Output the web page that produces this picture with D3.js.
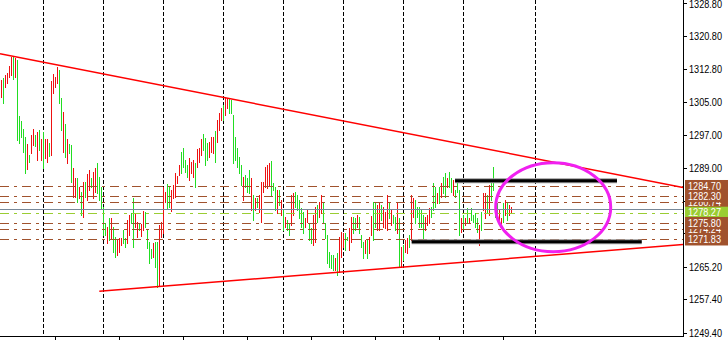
<!DOCTYPE html>
<html><head><meta charset="utf-8">
<script src="https://cdn.jsdelivr.net/npm/d3@7"></script>
<style>html,body{margin:0;padding:0;background:#fff;overflow:hidden}svg{display:block}</style>
</head><body>
<svg id="c" width="728" height="340"></svg>
<script>
// ---------------- data ----------------
const priceTicks = [1328.80,1320.80,1312.80,1305.00,1297.00,1289.00,1281.10,1273.30,1265.20,1257.40,1249.40];
const priceTickLabels = ["1328.80","1320.80","1312.80","1305.00","1297.00","1289.00","","","1265.20","1257.40","1249.40"];
const highs = [
1310.2,1310.7,1311.4,1311.9,1313.6,1315.7,1316.0,1315.5,1315.0,1301.5,
1300.3,1298.4,1296.5,1294.8,1292.2,1297.0,1298.4,1297.0,1297.7,1298.2,
1296.0,1297.7,1296.0,1296.0,1295.0,1310.0,1311.7,1310.9,1313.3,1312.6,
1305.9,1302.5,1299.6,1296.0,1294.8,1294.6,1289.0,1286.6,1286.6,1284.5,
1283.3,1285.7,1285.7,1287.6,1288.5,1286.6,1288.1,1289.0,1290.2,1286.9,
1284.5,1279.6,1275.8,1274.8,1277.0,1277.0,1274.8,1272.4,1271.7,1272.2,
1272.2,1274.1,1272.2,1276.5,1277.7,1278.2,1281.8,1278.2,1276.0,1275.8,
1275.6,1278.7,1278.4,1274.1,1271.2,1269.5,1271.0,1271.2,1271.2,1275.3,
1276.0,1284.5,1283.3,1285.2,1284.5,1283.7,1284.9,1287.8,1287.1,1289.8,
1292.9,1293.8,1291.0,1289.8,1291.4,1290.5,1291.0,1290.2,1293.6,1293.8,
1296.0,1297.2,1296.2,1295.0,1295.3,1296.5,1296.5,1297.9,1300.6,1302.3,
1303.5,1304.2,1306.1,1305.9,1305.6,1305.4,1301.8,1296.5,1293.8,1291.7,
1289.8,1286.9,1287.4,1286.6,1288.5,1286.6,1282.5,1281.8,1281.8,1282.5,
1285.7,1285.7,1289.3,1289.8,1290.2,1290.7,1285.4,1284.5,1283.7,1283.7,
1281.3,1278.9,1277.2,1276.5,1275.8,1282.5,1283.0,1283.3,1282.5,1281.3,
1279.4,1278.4,1277.0,1278.9,1275.8,1274.6,1277.7,1279.6,1280.1,1280.9,
1282.5,1280.9,1275.8,1272.9,1268.8,1268.1,1268.1,1267.4,1268.6,1272.4,
1273.6,1273.4,1273.4,1272.4,1274.6,1277.2,1277.2,1277.0,1277.7,1277.2,
1272.9,1271.2,1271.7,1271.9,1272.4,1277.5,1280.9,1280.6,1280.1,1280.9,
1280.1,1279.6,1278.4,1282.5,1280.6,1278.9,1277.7,1277.2,1280.9,1277.0,
1270.0,1270.5,1271.7,1272.2,1272.9,1282.5,1281.8,1281.3,1279.6,1279.6,
1278.9,1277.7,1277.2,1277.7,1279.4,1279.6,1285.4,1284.5,1283.0,1284.5,
1285.4,1286.9,1287.8,1286.6,1288.1,1286.6,1286.1,1283.7,1285.7,1283.7,
1277.0,1277.7,1277.0,1279.4,1277.0,1279.4,1277.7,1278.2,1277.0,1275.3,
1278.4,1283.0,1283.0,1282.5,1284.9,1285.7,1289.3,1280.1,1280.6,1278.9,
1277.0,1280.6,1281.3,1280.6,1280.1,1279.6];
const lows = [
1306.1,1304.7,1308.5,1309.5,1310.9,1311.4,1310.4,1310.9,1295.8,1295.0,
1296.5,1292.9,1287.8,1288.8,1290.5,1292.6,1294.6,1294.3,1291.0,1293.4,
1291.0,1289.0,1291.4,1290.5,1291.9,1292.2,1307.1,1308.5,1309.5,1304.7,
1298.2,1292.9,1291.7,1290.2,1292.6,1285.7,1282.1,1282.1,1280.9,1281.8,
1277.7,1277.2,1282.1,1281.3,1283.7,1284.5,1281.8,1283.3,1283.0,1281.3,
1279.2,1272.9,1272.9,1271.0,1271.7,1271.9,1268.8,1267.6,1268.1,1268.8,
1270.5,1271.0,1270.0,1271.0,1272.9,1275.8,1270.0,1274.8,1272.4,1274.1,
1272.7,1274.1,1274.8,1269.8,1266.2,1267.4,1267.6,1265.2,1260.4,1260.6,
1272.4,1273.4,1280.9,1279.4,1279.6,1278.7,1281.8,1282.1,1285.4,1287.4,
1287.8,1289.3,1288.1,1286.9,1286.1,1287.8,1286.9,1284.5,1289.3,1290.5,
1292.2,1293.4,1289.8,1291.0,1291.7,1292.9,1292.6,1290.5,1295.3,1298.2,
1300.6,1300.6,1301.8,1303.5,1302.3,1302.3,1290.2,1291.0,1289.3,1287.8,
1284.9,1281.3,1284.5,1283.3,1283.0,1278.9,1276.5,1278.9,1279.6,1278.4,
1276.0,1283.3,1284.5,1284.2,1284.9,1282.5,1283.7,1278.9,1278.2,1280.1,
1277.7,1274.1,1274.8,1274.1,1272.9,1275.3,1277.7,1279.6,1278.9,1277.0,
1274.8,1273.4,1274.8,1276.0,1271.7,1271.0,1270.5,1271.2,1276.0,1277.2,
1278.2,1276.0,1272.2,1266.2,1265.2,1265.0,1264.5,1264.5,1263.3,1264.0,
1267.6,1270.0,1269.3,1271.7,1269.3,1271.2,1273.4,1274.1,1274.8,1273.4,
1270.0,1267.4,1268.6,1267.4,1268.6,1272.9,1271.7,1274.8,1274.1,1274.1,
1276.5,1274.8,1274.6,1274.1,1277.0,1275.3,1275.8,1274.1,1273.4,1265.2,
1265.2,1266.9,1268.8,1268.6,1270.0,1271.7,1277.2,1275.8,1277.2,1274.8,
1274.8,1271.7,1274.1,1275.3,1275.8,1277.2,1278.9,1279.6,1280.6,1280.6,
1282.1,1283.0,1282.1,1284.5,1284.5,1283.3,1282.5,1282.1,1283.3,1272.9,
1273.6,1274.6,1275.3,1276.0,1275.8,1276.5,1276.0,1274.8,1273.6,1270.5,
1274.1,1278.9,1277.0,1278.2,1277.7,1281.3,1283.7,1277.2,1276.5,1275.8,
1274.8,1276.0,1277.7,1276.5,1277.7,1278.2];
const barDir = ("rgrrrrgrgg"+"gggrgrrgrg"+"rgrrgrrrrg"+"grgrggrrgr"+"grgrrgrrgg"+
  "gggrgrggrr"+"rggrrggrrg"+"rrggggrggr"+"rrrggrrrrr"+"ggggrrrgrr"+
  "rgggrrrgrr"+"rgrrgggggg"+"grgggrgrgr"+"rrrrrgggrg"+"rgrggrrggg"+
  "ggrrggrrgr"+"rggggggrgr"+"rrggrrggrg"+"ggrgrrggrr"+"grrrgrggrg"+
  "rgrrgrrggg"+"ggrrrgggrg"+"rggrggrggg"+"rgrgrggggr"+"grrgrggggr"+"rgrgrr").split("");
const daySeparators = [21,51,81,111,141,171,201,231,267];
const timeTicks = [27,59,91,123,155,187,219,251];
const levelPrices = [1284.70,1282.30,1280.74,1275.80,1274.24,1271.83];
const levelLabels = ["1284.70","1282.30","1280.74","1275.80","1274.24","1271.83"];
const greenPrice = 1278.27, greenLabel = "1278.27";
const bidPrice = 1279.17;
const trendLines = [
  {i1:-0.75, p1:1316.53, i2:340.75, p2:1284.34},
  {i1:48.9,  p1:1259.36, i2:340.75, p2:1270.60}
];
const boxLines = [
  {i1:226.75, i2:307.75, p:1285.97},
  {i1:205.1,  i2:320.1,  p:1271.30}
];
const ellipse = {i1:247.1, i2:304.6, pTop:1290.3, pBot:1268.9};

// ---------------- scales ----------------
const plotR = 683, plotB = 336;
const x = d3.scaleLinear().domain([0, 341]).range([1.5, 683.5]);
const y = d3.scaleLinear().domain([1249.4, 1328.8]).range([332.7, 2.7]);

const svg = d3.select("#c");
svg.append("rect").attr("width",728).attr("height",340).attr("fill","#fff");
svg.append("clipPath").attr("id","clip").append("rect").attr("width",plotR).attr("height",plotB);
const g = svg.append("g").attr("clip-path","url(#clip)");

// day separators
g.selectAll(".sep").data(daySeparators).join("line")
  .attr("x1",d=>x(d)).attr("x2",d=>x(d)).attr("y1",0).attr("y2",plotB)
  .attr("stroke","#000").attr("stroke-width",1).attr("stroke-dasharray","4,2")
  .attr("shape-rendering","crispEdges");

// bars
g.selectAll(".bar").data(highs).join("line")
  .attr("x1",(d,i)=>x(i)).attr("x2",(d,i)=>x(i))
  .attr("y1",d=>Math.round(y(d))).attr("y2",(d,i)=>Math.round(y(lows[i]))+1)
  .attr("stroke",(d,i)=>barDir[i]==="g"?"#22dd22":"#ee1111")
  .attr("stroke-width",1).attr("shape-rendering","crispEdges");

// horizontal levels
const dash = "9,5,3,5";
g.selectAll(".lvl").data(levelPrices).join("line")
  .attr("x1",0).attr("x2",plotR)
  .attr("y1",d=>Math.round(y(d))+0.5).attr("y2",d=>Math.round(y(d))+0.5)
  .attr("stroke","#a0522d").attr("stroke-width",1).attr("stroke-dasharray",dash)
  .attr("shape-rendering","crispEdges");
g.append("line").attr("x1",0).attr("x2",plotR)
  .attr("y1",Math.round(y(bidPrice))+0.5).attr("y2",Math.round(y(bidPrice))+0.5)
  .attr("stroke","#778899").attr("stroke-width",1).attr("shape-rendering","crispEdges");
g.append("line").attr("x1",0).attr("x2",plotR)
  .attr("y1",Math.round(y(greenPrice))+0.5).attr("y2",Math.round(y(greenPrice))+0.5)
  .attr("stroke","#9acd32").attr("stroke-width",1).attr("stroke-dasharray",dash)
  .attr("shape-rendering","crispEdges");

// trend lines
g.selectAll(".tl").data(trendLines).join("line")
  .attr("x1",d=>x(d.i1)).attr("y1",d=>y(d.p1)).attr("x2",d=>x(d.i2)).attr("y2",d=>y(d.p2))
  .attr("stroke","#ff0000").attr("stroke-width",1.5);

// black horizontal segments
g.selectAll(".bl0").data(boxLines).join("line")
  .attr("x1",d=>x(d.i1)).attr("x2",d=>x(d.i2)).attr("y1",d=>y(d.p)).attr("y2",d=>y(d.p))
  .attr("stroke","#9a9a9a").attr("stroke-width",5);
g.selectAll(".bl1").data(boxLines).join("line")
  .attr("x1",d=>x(d.i1)).attr("x2",d=>x(d.i2)).attr("y1",d=>y(d.p)).attr("y2",d=>y(d.p))
  .attr("stroke","#000").attr("stroke-width",3);

// ellipse
g.append("ellipse")
  .attr("cx",(x(ellipse.i1)+x(ellipse.i2))/2).attr("cy",(y(ellipse.pTop)+y(ellipse.pBot))/2)
  .attr("rx",(x(ellipse.i2)-x(ellipse.i1))/2).attr("ry",(y(ellipse.pBot)-y(ellipse.pTop))/2)
  .attr("fill","none").attr("stroke","#f020f0").attr("stroke-width",3);

// axes lines
svg.append("line").attr("x1",plotR+0.5).attr("x2",plotR+0.5).attr("y1",0).attr("y2",plotB+1)
  .attr("stroke","#000").attr("shape-rendering","crispEdges");
svg.append("line").attr("x1",0).attr("x2",plotR+1).attr("y1",plotB+0.5).attr("y2",plotB+0.5)
  .attr("stroke","#000").attr("shape-rendering","crispEdges");
svg.selectAll(".tt").data(timeTicks).join("line")
  .attr("x1",d=>x(d)).attr("x2",d=>x(d)).attr("y1",plotB).attr("y2",340)
  .attr("stroke","#000").attr("shape-rendering","crispEdges");

// price axis ticks and labels
const font = "'Liberation Sans', Arial, sans-serif";
const pa = svg.append("g");
priceTicks.forEach((t,k)=>{
  const yy = Math.round(y(t))+0.5;
  pa.append("line").attr("x1",plotR).attr("x2",plotR+4).attr("y1",yy).attr("y2",yy)
    .attr("stroke","#000").attr("shape-rendering","crispEdges");
  if(priceTickLabels[k]) pa.append("text").attr("x",689).attr("y",Math.max(yy,4.5)).attr("dy","0.36em")
    .attr("font-family",font).attr("font-size","10px").attr("fill","#000")
    .attr("textLength",33).attr("lengthAdjust","spacingAndGlyphs").text(priceTickLabels[k]);
});

// level labels (boxes)
function box(price,label,color){
  const yy = y(price);
  pa.append("rect").attr("x",685).attr("y",yy-6).attr("width",43).attr("height",12).attr("fill",color);
  pa.append("text").attr("x",688).attr("y",yy).attr("dy","0.36em")
    .attr("font-family",font).attr("font-size","10px").attr("fill","#fff")
    .attr("textLength",33).attr("lengthAdjust","spacingAndGlyphs").text(label);
}
const order = [2,4,0,1,3,5];
order.forEach(k=>{ if(k===3) box(greenPrice,greenLabel,"#9acd32"); box(levelPrices[k],levelLabels[k],"#a0522d"); });
</script>
</body></html>
